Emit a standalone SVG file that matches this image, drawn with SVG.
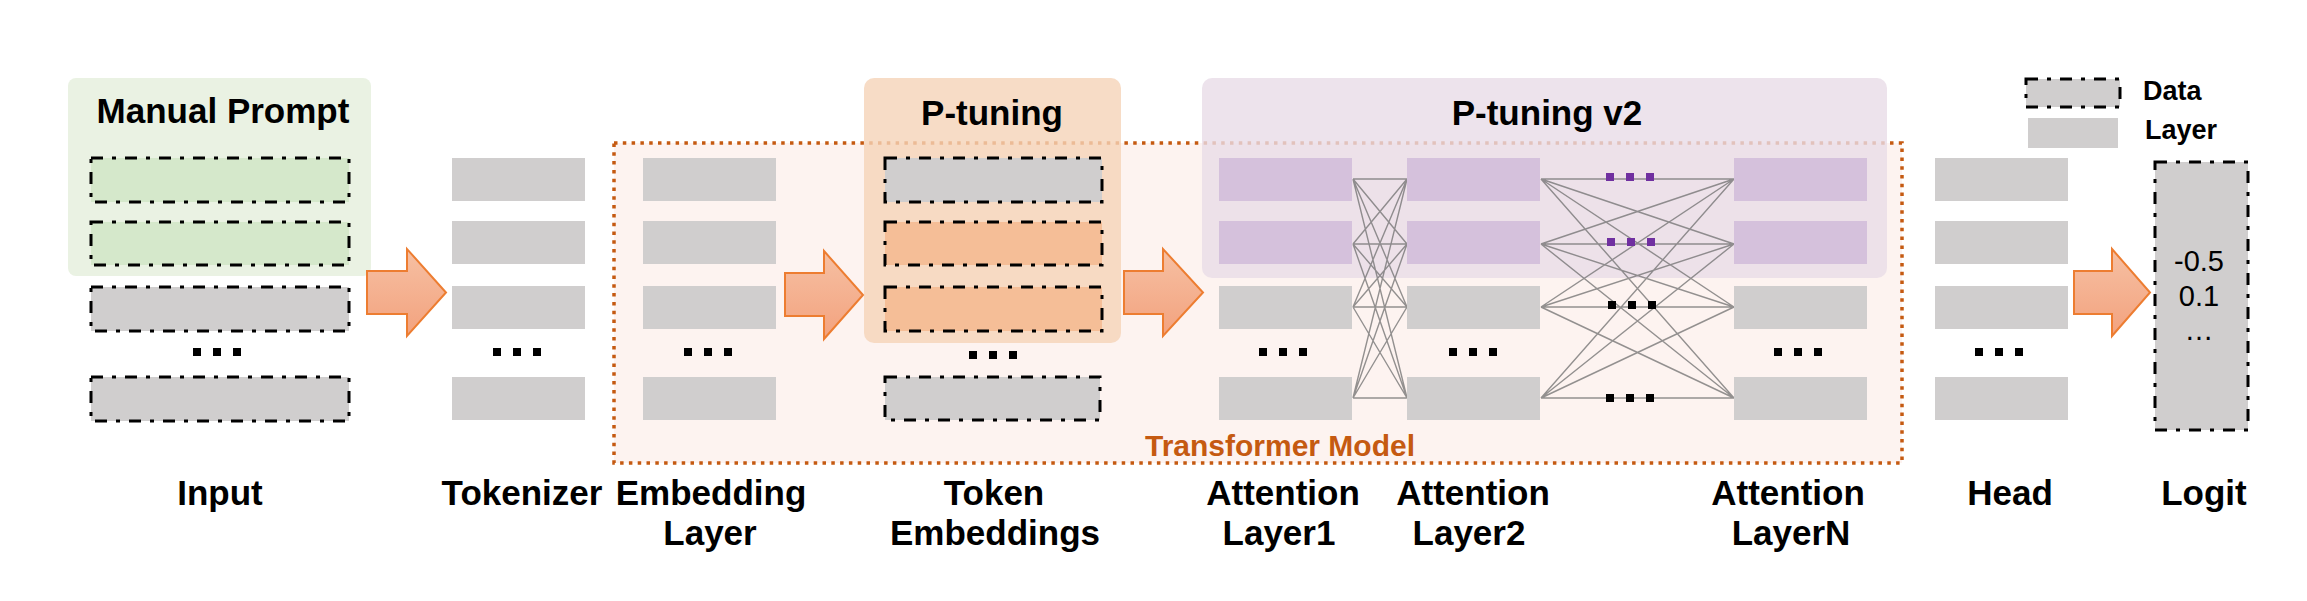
<svg xmlns="http://www.w3.org/2000/svg" width="2307" height="601" viewBox="0 0 2307 601">
<defs>
<linearGradient id="ag" x1="0" y1="0" x2="0" y2="1">
<stop offset="0" stop-color="#F6C0A3"/>
<stop offset="1" stop-color="#F3A27E"/>
</linearGradient>
<style>
.lay{fill:#D0CECE}
.dat{fill:#D0CECE;stroke:#000;stroke-width:3;stroke-dasharray:12 9 4 9}
.grn{fill:#D5E8CB}
.org{fill:#F5BE97}
.pur{fill:#D5C1DC}
.dot{fill:#000}
.pdot{fill:#7030A0}
.arrow{fill:url(#ag);stroke:#ED7D31;stroke-width:2}
.cn{stroke:#6F6F6F;stroke-opacity:0.75;stroke-width:1.4;fill:none}
.lbl{font-family:"Liberation Sans",Arial,sans-serif;font-weight:bold;font-size:35px;fill:#000;text-anchor:middle}
.ttl{font-family:"Liberation Sans",Arial,sans-serif;font-weight:bold;font-size:35px;fill:#000;text-anchor:middle}
.leg{font-family:"Liberation Sans",Arial,sans-serif;font-weight:bold;font-size:27px;fill:#000}
.num{font-family:"Liberation Sans",Arial,sans-serif;font-size:29px;fill:#000;text-anchor:middle}
</style>
</defs>
<rect width="2307" height="601" fill="#fff"/>

<g id="transformer-model">
<rect x="614" y="143" width="1288" height="320" fill="#FDF3F0" stroke="#C55A11" stroke-width="3.5" stroke-dasharray="3.5 5.3"/>
<text x="1280" y="456" style="font-family:'Liberation Sans',Arial,sans-serif;font-weight:bold;font-size:30px;fill:#C55A11;text-anchor:middle">Transformer Model</text>
</g>

<g id="manual-prompt">
<rect x="68" y="78" width="303" height="198" rx="8" fill="#EAF2E3"/>
<text class="ttl" x="223" y="123">Manual Prompt</text>
</g>

<g id="p-tuning">
<rect x="864" y="78" width="257" height="265" rx="10" fill="#F5D3B8" fill-opacity="0.8"/>
<text class="ttl" x="992" y="125">P-tuning</text>
</g>

<g id="p-tuning-v2">
<rect x="1202" y="78" width="685" height="200" rx="10" fill="#E8DCE7" fill-opacity="0.8"/>
<text class="ttl" x="1547" y="125">P-tuning v2</text>
</g>

<g id="legend">
<rect class="dat" x="2026" y="79" width="94" height="28"/>
<text class="leg" x="2143" y="100">Data</text>
<rect class="lay" x="2028" y="118" width="90" height="30"/>
<text class="leg" x="2145" y="139">Layer</text>
</g>

<g id="input">
<rect class="dat grn" x="91" y="158" width="258" height="44"/>
<rect class="dat grn" x="91" y="222" width="258" height="43"/>
<rect class="dat" x="91" y="287" width="258" height="44"/>
<rect class="dot" x="193" y="348" width="8" height="8"/><rect class="dot" x="213" y="348" width="8" height="8"/><rect class="dot" x="233" y="348" width="8" height="8"/>
<rect class="dat" x="91" y="377" width="258" height="44"/>
<text class="lbl" x="220" y="505">Input</text>
</g>

<g id="tokenizer">
<rect class="lay" x="452" y="158" width="133" height="43"/>
<rect class="lay" x="452" y="221" width="133" height="43"/>
<rect class="lay" x="452" y="286" width="133" height="43"/>
<rect class="dot" x="493" y="348" width="8" height="8"/><rect class="dot" x="513" y="348" width="8" height="8"/><rect class="dot" x="533" y="348" width="8" height="8"/>
<rect class="lay" x="452" y="377" width="133" height="43"/>
<text class="lbl" x="522" y="505">Tokenizer</text>
</g>

<g id="embedding-layer">
<rect class="lay" x="643" y="158" width="133" height="43"/>
<rect class="lay" x="643" y="221" width="133" height="43"/>
<rect class="lay" x="643" y="286" width="133" height="43"/>
<rect class="dot" x="684" y="348" width="8" height="8"/><rect class="dot" x="704" y="348" width="8" height="8"/><rect class="dot" x="724" y="348" width="8" height="8"/>
<rect class="lay" x="643" y="377" width="133" height="43"/>
<text class="lbl" x="711" y="505">Embedding</text>
<text class="lbl" x="710" y="545">Layer</text>
</g>

<g id="token-embeddings">
<rect class="dat" x="885" y="158" width="217" height="44"/>
<rect class="dat org" x="885" y="222" width="217" height="43"/>
<rect class="dat org" x="885" y="287" width="217" height="44"/>
<rect class="dot" x="969" y="351" width="8" height="8"/><rect class="dot" x="989" y="351" width="8" height="8"/><rect class="dot" x="1009" y="351" width="8" height="8"/>
<rect class="dat" x="885" y="377" width="215" height="43"/>
<text class="lbl" x="994" y="505">Token</text>
<text class="lbl" x="995" y="545">Embeddings</text>
</g>

<g id="connectors">
<path class="arrow" d="M367,271 H407 V249 L446,292.5 L407,336 V314 H367 Z"/>
<path class="arrow" d="M785,273 H824 V251 L863,295 L824,339 V316 H785 Z"/>
<path class="arrow" d="M1124,271 H1163 V249 L1203,292.5 L1163,336 V314 H1124 Z"/>
<path class="arrow" d="M2074,271 H2112 V249 L2150,292.5 L2112,336 V314 H2074 Z"/>
<g id="attn1-to-attn2">
<path class="cn" d="M1353,179 L1407,179 M1353,179 L1407,244 M1353,179 L1407,307 M1353,179 L1407,398
M1353,244 L1407,179 M1353,244 L1407,244 M1353,244 L1407,307 M1353,244 L1407,398
M1353,307 L1407,179 M1353,307 L1407,244 M1353,307 L1407,307 M1353,307 L1407,398
M1353,398 L1407,179 M1353,398 L1407,244 M1353,398 L1407,307 M1353,398 L1407,398"/>
</g>
<g id="attn2-to-attnN">
<path class="cn" d="M1541,179 L1734,179 M1541,179 L1734,244 M1541,179 L1734,307 M1541,179 L1734,398
M1541,244 L1734,179 M1541,244 L1734,244 M1541,244 L1734,307 M1541,244 L1734,398
M1541,307 L1734,179 M1541,307 L1734,244 M1541,307 L1734,307 M1541,307 L1734,398
M1541,398 L1734,179 M1541,398 L1734,244 M1541,398 L1734,307 M1541,398 L1734,398"/>
<rect class="pdot" x="1606" y="173" width="8" height="8"/><rect class="pdot" x="1626" y="173" width="8" height="8"/><rect class="pdot" x="1646" y="173" width="8" height="8"/>
<rect class="pdot" x="1607" y="238" width="8" height="8"/><rect class="pdot" x="1627" y="238" width="8" height="8"/><rect class="pdot" x="1647" y="238" width="8" height="8"/>
<rect class="dot" x="1608" y="301" width="8" height="8"/><rect class="dot" x="1628" y="301" width="8" height="8"/><rect class="dot" x="1648" y="301" width="8" height="8"/>
<rect class="dot" x="1606" y="394" width="8" height="8"/><rect class="dot" x="1626" y="394" width="8" height="8"/><rect class="dot" x="1646" y="394" width="8" height="8"/>
</g>
</g>

<g id="attention-layer1">
<rect class="pur" x="1219" y="158" width="133" height="43"/>
<rect class="pur" x="1219" y="221" width="133" height="43"/>
<rect class="lay" x="1219" y="286" width="133" height="43"/>
<rect class="dot" x="1259" y="348" width="8" height="8"/><rect class="dot" x="1279" y="348" width="8" height="8"/><rect class="dot" x="1299" y="348" width="8" height="8"/>
<rect class="lay" x="1219" y="377" width="133" height="43"/>
<text class="lbl" x="1283" y="505">Attention</text>
<text class="lbl" x="1279" y="545">Layer1</text>
</g>

<g id="attention-layer2">
<rect class="pur" x="1407" y="158" width="133" height="43"/>
<rect class="pur" x="1407" y="221" width="133" height="43"/>
<rect class="lay" x="1407" y="286" width="133" height="43"/>
<rect class="dot" x="1449" y="348" width="8" height="8"/><rect class="dot" x="1469" y="348" width="8" height="8"/><rect class="dot" x="1489" y="348" width="8" height="8"/>
<rect class="lay" x="1407" y="377" width="133" height="43"/>
<text class="lbl" x="1473" y="505">Attention</text>
<text class="lbl" x="1469" y="545">Layer2</text>
</g>

<g id="attention-layerN">
<rect class="pur" x="1734" y="158" width="133" height="43"/>
<rect class="pur" x="1734" y="221" width="133" height="43"/>
<rect class="lay" x="1734" y="286" width="133" height="43"/>
<rect class="dot" x="1774" y="348" width="8" height="8"/><rect class="dot" x="1794" y="348" width="8" height="8"/><rect class="dot" x="1814" y="348" width="8" height="8"/>
<rect class="lay" x="1734" y="377" width="133" height="43"/>
<text class="lbl" x="1788" y="505">Attention</text>
<text class="lbl" x="1791" y="545">LayerN</text>
</g>

<g id="head">
<rect class="lay" x="1935" y="158" width="133" height="43"/>
<rect class="lay" x="1935" y="221" width="133" height="43"/>
<rect class="lay" x="1935" y="286" width="133" height="43"/>
<rect class="dot" x="1975" y="348" width="8" height="8"/><rect class="dot" x="1995" y="348" width="8" height="8"/><rect class="dot" x="2015" y="348" width="8" height="8"/>
<rect class="lay" x="1935" y="377" width="133" height="43"/>
<text class="lbl" x="2010" y="505">Head</text>
</g>

<g id="logit">
<rect class="dat" x="2155" y="162" width="93" height="268"/>
<text class="num" x="2199" y="271">-0.5</text>
<text class="num" x="2199" y="306">0.1</text>
<text class="num" x="2199" y="340">…</text>
<text class="lbl" x="2204" y="505">Logit</text>
</g>
</svg>
